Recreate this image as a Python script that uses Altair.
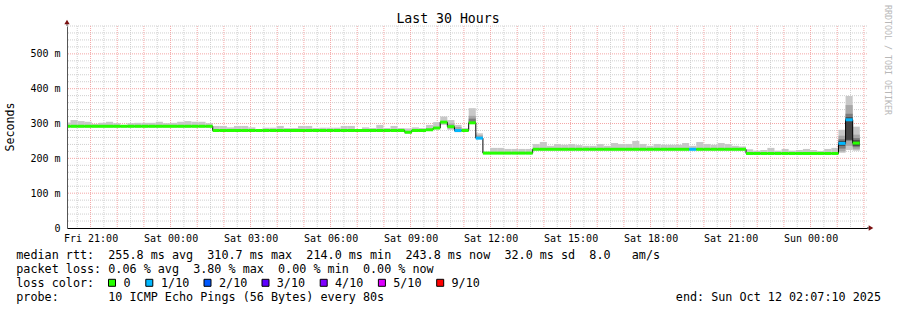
import json
import altair as alt
import pandas as pd

# ---------------- data ----------------
# time axis in minutes after Fri 20:00
T_START = 7.0
T_END = 1807.0
BUCKET_MIN = 16.0
BUCKET_ORIGIN = -1.2

median_ms = [
    292, 292, 292, 292, 292, 292, 292, 292, 292, 292,
    292, 292, 292, 292, 292, 292, 292, 292, 292, 292,
    292, 280, 280, 280, 280, 280, 280, 280, 280, 280,
    280, 280, 280, 280, 280, 280, 280, 280, 280, 280,
    280, 280, 280, 280, 280, 280, 280, 280, 275, 280,
    280, 282, 287, 304, 291, 280, 280, 302, 258, 215,
    215, 215, 215, 215, 215, 215, 226, 226, 226, 226,
    226, 226, 226, 226, 226, 226, 226, 226, 226, 226,
    226, 226, 226, 226, 226, 226, 226, 226, 226, 226,
    226, 226, 226, 226, 226, 226, 214, 214, 214, 214,
    214, 214, 214, 214, 214, 214, 214, 214, 214, 243,
    310.7, 243.8,
]

loss_tenths = [
    0, 0, 0, 0, 0, 0, 0, 0, 0, 0,
    0, 0, 0, 0, 0, 0, 0, 0, 0, 0,
    0, 0, 0, 0, 0, 0, 0, 0, 0, 0,
    0, 0, 0, 0, 0, 0, 0, 0, 0, 0,
    0, 0, 0, 0, 0, 0, 0, 0, 0, 0,
    0, 0, 0, 0, 0, 1, 0, 0, 1, 0,
    0, 0, 0, 0, 0, 0, 0, 0, 0, 0,
    0, 0, 0, 0, 0, 0, 0, 0, 0, 0,
    0, 0, 0, 0, 0, 0, 0, 0, 1, 0,
    0, 0, 0, 0, 0, 0, 0, 0, 0, 0,
    0, 0, 0, 0, 0, 0, 0, 0, 0, 1,
    1, 0,
]

smoke_hi_ms = [
    303, 310, 307, 305, 299, 302, 305, 301, 296, 301,
    302, 302, 302, 305, 301, 302, 305, 307, 305, 305,
    301, 293, 293, 289, 293, 293, 289, 284, 288, 288,
    293, 287, 287, 293, 293, 287, 288, 288, 288, 293,
    293, 284, 289, 287, 296, 287, 293, 287, 286, 289,
    287, 296, 304, 320, 310, 296, 287, 344, 272, 219,
    230, 230, 227, 227, 227, 227, 241, 247, 236, 241,
    239, 241, 238, 236, 236, 241, 236, 244, 241, 241,
    250, 241, 236, 241, 239, 239, 239, 244, 236, 247,
    241, 239, 244, 241, 236, 234, 226, 222, 224, 230,
    222, 227, 222, 224, 227, 224, 221, 227, 230, 282,
    379, 291,
]

smoke_lo_ms = [
    289, 289, 289, 289, 289, 289, 289, 289, 289, 289,
    289, 289, 289, 289, 289, 289, 289, 289, 289, 289,
    289, 277, 277, 277, 277, 277, 277, 277, 277, 277,
    277, 277, 277, 277, 277, 277, 277, 277, 277, 277,
    277, 277, 277, 277, 277, 277, 277, 277, 271, 277,
    277, 279, 284, 296, 282, 275, 277, 299, 255, 212,
    212, 212, 212, 212, 212, 212, 223, 223, 223, 223,
    223, 223, 223, 223, 223, 223, 223, 223, 223, 223,
    223, 223, 223, 223, 223, 223, 223, 223, 223, 223,
    223, 223, 223, 223, 223, 223, 211, 211, 211, 211,
    211, 211, 211, 211, 211, 211, 211, 211, 211, 216,
    224, 222,
]

# darker inner smoke bands
band_bucket = [54, 55, 57, 57, 58, 109, 109, 109, 110, 110, 110, 111, 111, 111]
band_level = [2, 2, 2, 3, 2, 2, 3, 4, 2, 3, 4, 2, 3, 4]
band_lo_ms = [286, 278, 300, 301, 257, 220, 228, 236, 236, 250, 253, 226, 232, 236]
band_hi_ms = [300, 290, 322, 314, 266, 265, 255, 250, 353, 328, 318, 268, 258, 252]
smoke_shades = {1: "#c8c8c8", 2: "#a8a8a8", 3: "#7c7c7c", 4: "#444444"}

x_tick_minutes = [60, 240, 420, 600, 780, 960, 1140, 1320, 1500, 1680]
x_tick_labels = ["Fri 21:00", "Sat 00:00", "Sat 03:00", "Sat 06:00", "Sat 09:00",
                 "Sat 12:00", "Sat 15:00", "Sat 18:00", "Sat 21:00", "Sun 00:00"]
y_tick_values = [0, 100, 200, 300, 400, 500]

loss_labels = ["0", "1/10", "2/10", "3/10", "4/10", "5/10", "9/10"]
loss_colors = ["#26ff00", "#00b8ff", "#0059ff", "#5e00ff", "#7e00ff", "#dd00ff", "#ff0000"]

title_text = "Last 30 Hours"
y_title = "Seconds"
stats_line = "median rtt:  255.8 ms avg  310.7 ms max  214.0 ms min  243.8 ms now  32.0 ms sd  8.0   am/s"
loss_line = "packet loss: 0.06 % avg  3.80 % max  0.00 % min  0.00 % now"
color_line = "loss color:"
probe_line = "probe:       10 ICMP Echo Pings (56 Bytes) every 80s"
end_line = "end: Sun Oct 12 02:07:10 2025"
credit = "RRDTOOL / TOBI OETIKER"

# ---------------- build tables ----------------
rows = []
for i, (m, l, hi, lo) in enumerate(zip(median_ms, loss_tenths, smoke_hi_ms, smoke_lo_ms)):
    s = max(T_START, BUCKET_ORIGIN + BUCKET_MIN * i)
    e = min(T_END, BUCKET_ORIGIN + BUCKET_MIN * (i + 1))
    rows.append(dict(i=i, t0=s, t1=e, med=m, loss=l, hi=hi, lo=lo,
                     lcol=loss_colors[l], scol=smoke_shades[1]))
buckets = pd.DataFrame(rows)

step = pd.DataFrame({"t": list(buckets.t0) + [buckets.t1.iloc[-1]],
                     "med": list(buckets.med) + [buckets.med.iloc[-1]]})

bands = pd.DataFrame({"i": band_bucket, "level": band_level, "lo": band_lo_ms, "hi": band_hi_ms})
bands["scol"] = [smoke_shades[v] for v in band_level]
bands = bands.merge(buckets[["i", "t0", "t1"]], on="i")

v_minor = pd.DataFrame({"t": list(range(30, 1807, 60))})
v_major = pd.DataFrame({"t": list(range(60, 1807, 60))})
h_minor = pd.DataFrame({"v": [v for v in range(20, 581, 20) if v % 100 != 0]})
h_major = pd.DataFrame({"v": [100, 200, 300, 400, 500]})

MONO = "DejaVu Sans Mono"
OX, OY = 67, 26  # plot origin in page pixels
W, H = 800, 202

xs = alt.Scale(domain=[T_START, T_END], nice=False, zero=False)
ys = alt.Scale(domain=[0, 580], nice=False, zero=True)

label_expr = json.dumps(x_tick_labels) + "[round((datum.value - 60) / 180)]"
XAX = alt.Axis(values=x_tick_minutes, labelExpr=label_expr, grid=False, ticks=False,
               domainColor="black", domainWidth=1, labelFont=MONO, labelFontSize=10,
               labelColor="black", labelPadding=5, labelOverlap=False, labelFlush=False,
               title=None, zindex=1)
YAX = alt.Axis(values=y_tick_values,
               labelExpr="datum.value == 0 ? '0\u00a0\u00a0' : datum.value + '\u00a0m'",
               grid=False, ticks=False, domainColor="#555555", domainWidth=1, labelFont=MONO,
               labelFontSize=10, labelColor="black", labelPadding=7, title=None, zindex=1)


def X(f):
    return alt.X(f, scale=xs, axis=XAX)


def Y(f):
    return alt.Y(f, scale=ys, axis=YAX)


one = pd.DataFrame({"a": [0]})
layers = []

# grid
layers.append(alt.Chart(v_minor).mark_rule(color="#cfcfcf", strokeDash=[1, 1], strokeWidth=1)
              .encode(x=X("t:Q")))
layers.append(alt.Chart(h_minor).mark_rule(color="#cfcfcf", strokeDash=[1, 1], strokeWidth=1)
              .encode(y=Y("v:Q")))
layers.append(alt.Chart(v_major).mark_rule(color="#f4a6a6", strokeDash=[1, 1], strokeWidth=1)
              .encode(x=X("t:Q")))
layers.append(alt.Chart(h_major).mark_rule(color="#f4a6a6", strokeDash=[1, 1], strokeWidth=1)
              .encode(y=Y("v:Q")))

# smoke
layers.append(alt.Chart(buckets).mark_rect().encode(
    x=X("t0:Q"), x2="t1:Q", y=Y("lo:Q"), y2="hi:Q",
    color=alt.Color("scol:N", scale=None)))
layers.append(alt.Chart(bands).mark_rect().encode(
    x=X("t0:Q"), x2="t1:Q", y=Y("lo:Q"), y2="hi:Q",
    color=alt.Color("scol:N", scale=None)))

# median step line (black connectors)
layers.append(alt.Chart(step).mark_line(interpolate="step-after", color="black", strokeWidth=1)
              .encode(x=X("t:Q"), y=Y("med:Q")))

# median coloured by loss
layers.append(alt.Chart(buckets).mark_rule(strokeWidth=3, strokeCap="butt").encode(
    x=X("t0:Q"), x2="t1:Q", y=Y("med:Q"),
    color=alt.Color("lcol:N", scale=None)))

# axis extensions and arrows
layers.append(alt.Chart(one).mark_rule(color="black", strokeWidth=1).encode(
    x=alt.value(W), x2=alt.value(W + 3), y=alt.value(H)))
layers.append(alt.Chart(one).mark_rule(color="#555555", strokeWidth=1).encode(
    x=alt.value(0), y=alt.value(-3), y2=alt.value(0)))
layers.append(alt.Chart(one).mark_point(shape="triangle-right", size=28, filled=True, color="#7a1010", opacity=1)
              .encode(x=alt.value(W + 4), y=alt.value(H)))
layers.append(alt.Chart(one).mark_point(shape="triangle-up", size=28, filled=True, color="#7a1010", opacity=1)
              .encode(x=alt.value(0), y=alt.value(-4)))


def text(txt, px, py, size, align="left", angle=0, color="black"):
    return alt.Chart(one).mark_text(
        text=txt.replace(" ", "\u00a0"), font=MONO, fontSize=size, align=align,
        baseline="middle", angle=angle, color=color
    ).encode(x=alt.value(px - OX), y=alt.value(py - OY))


layers.append(text(title_text, 448, 19, 13.2, align="center"))
layers.append(text(y_title, 11, 127, 11.6, align="center", angle=270))
layers.append(text(credit, 886.5, 60, 8.3, align="center", angle=90, color="#b8b8b8"))
layers.append(text(stats_line, 16.3, 254.5, 11.75))
layers.append(text(loss_line, 16.3, 268.5, 11.75))
layers.append(text(color_line, 16.3, 282.5, 11.75))
layers.append(text(probe_line, 16.3, 296.5, 11.75))
layers.append(text(end_line, 881, 296.5, 11.75, align="right"))

# loss colour legend boxes
box_left = [108.5, 145.8, 204.0, 262.0, 320.2, 378.4, 436.7]
label_left = [123.5, 161.0, 219.0, 276.8, 335.0, 393.2, 451.5]
for lab, col, bx, lx in zip(loss_labels, loss_colors, box_left, label_left):
    layers.append(alt.Chart(one).mark_rect(color=col, stroke="black", strokeWidth=1).encode(
        x=alt.value(bx - OX), x2=alt.value(bx + 7 - OX),
        y=alt.value(279.3 - OY), y2=alt.value(286.3 - OY)))
    layers.append(text(lab, lx, 282.5, 11.75))

chart = alt.layer(*layers).properties(
    width=W, height=H,
    autosize=alt.AutoSizeParams(type="none"),
    padding={"left": OX, "top": OY, "right": 897 - OX - W, "bottom": 310 - OY - H},
    background="white",
).configure_view(stroke=None)

chart.save("out.html", embed_options={"renderer": "svg", "actions": False})
